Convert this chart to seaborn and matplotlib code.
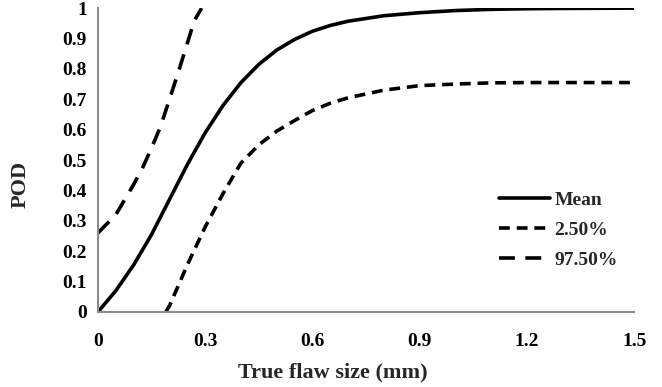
import numpy as np
import pandas as pd
import matplotlib
matplotlib.use("Agg")
import matplotlib.pyplot as plt
import seaborn as sns

# flaw size (mm) and POD values
mean_x = [0, 0.05, 0.1, 0.15, 0.2, 0.25, 0.3, 0.35, 0.4, 0.45, 0.5, 0.55,
          0.6, 0.65, 0.7, 0.8, 0.9, 1.0, 1.1, 1.2, 1.3, 1.5]
mean_pod = [0, 0.07, 0.155, 0.255, 0.37, 0.485, 0.59, 0.68, 0.755, 0.815,
            0.862, 0.897, 0.924, 0.943, 0.957, 0.975, 0.985, 0.992, 0.996,
            0.998, 0.999, 1.0]

lo_x = [0.19, 0.2, 0.25, 0.3, 0.35, 0.4, 0.45, 0.5, 0.55, 0.6, 0.65, 0.7,
        0.8, 0.9, 1.0, 1.1, 1.2, 1.5]
lo_pod = [0, 0.02, 0.155, 0.28, 0.39, 0.49, 0.55, 0.595, 0.63, 0.663,
          0.687, 0.705, 0.73, 0.745, 0.75, 0.754, 0.755, 0.755]

hi_x = [0, 0.025, 0.05, 0.075, 0.1, 0.125, 0.15, 0.175, 0.2, 0.225, 0.25,
        0.27, 0.29]
hi_pod = [0.26, 0.29, 0.32, 0.37, 0.42, 0.475, 0.54, 0.61, 0.70, 0.79,
          0.885, 0.96, 1.0]

series_names = ["Mean", "2.50%", "97.50%"]

df = pd.concat([
    pd.DataFrame({"size": mean_x, "pod": mean_pod, "series": series_names[0]}),
    pd.DataFrame({"size": lo_x, "pod": lo_pod, "series": series_names[1]}),
    pd.DataFrame({"size": hi_x, "pod": hi_pod, "series": series_names[2]}),
])

sns.set_style("white")
plt.rcParams["font.family"] = ["Liberation Serif", "DejaVu Serif"]
plt.rcParams["font.weight"] = "bold"

fig = plt.figure(figsize=(6.62, 3.87), dpi=100)
ax = fig.add_axes([0.148, 0.194, 0.81, 0.785])

sns.lineplot(data=df, x="size", y="pod", style="series", style_order=series_names,
             dashes={"Mean": "", "2.50%": (3.0, 1.9), "97.50%": (4.4, 2.9)},
             color="black", linewidth=2.6, sort=False, estimator=None, ax=ax)

ax.set_xlim(0, 1.5)
ax.set_ylim(0, 1)
ax.set_xticks([0, 0.3, 0.6, 0.9, 1.2, 1.5])
ax.set_xticklabels(["0", "0.3", "0.6", "0.9", "1.2", "1.5"])
ax.set_yticks(np.arange(0, 1.01, 0.1))
ax.set_yticklabels(["0"] + [f"{v:.1f}" for v in np.arange(0.1, 0.95, 0.1)] + ["1"])

for side in ["top", "right"]:
    ax.spines[side].set_visible(False)
for side in ["left", "bottom"]:
    ax.spines[side].set_color("#8c8c8c")
    ax.spines[side].set_linewidth(1.5)

ax.tick_params(axis="both", colors="#8c8c8c", labelcolor="black", length=3,
               width=1, direction="out", labelsize=14)
ax.tick_params(axis="x", pad=12)
ax.tick_params(axis="y", pad=5)
for lbl in ax.get_xticklabels() + ax.get_yticklabels():
    lbl.set_fontweight("bold")

ax.set_xlabel("True flaw size (mm)", fontsize=16, fontweight="bold")
ax.set_ylabel("POD", fontsize=16, fontweight="bold")
ax.xaxis.set_label_coords(0.438, -0.165)
ax.yaxis.set_label_coords(-0.125, 0.42)

handles, labels = ax.get_legend_handles_labels()
ax.legend(handles, labels, loc="upper left", bbox_to_anchor=(0.73, 0.43),
          frameon=False, borderpad=0, handlelength=2.6, handletextpad=0.25,
          labelspacing=0.65, prop={"weight": "bold", "size": 14})

fig.savefig("out.png", dpi=100)
